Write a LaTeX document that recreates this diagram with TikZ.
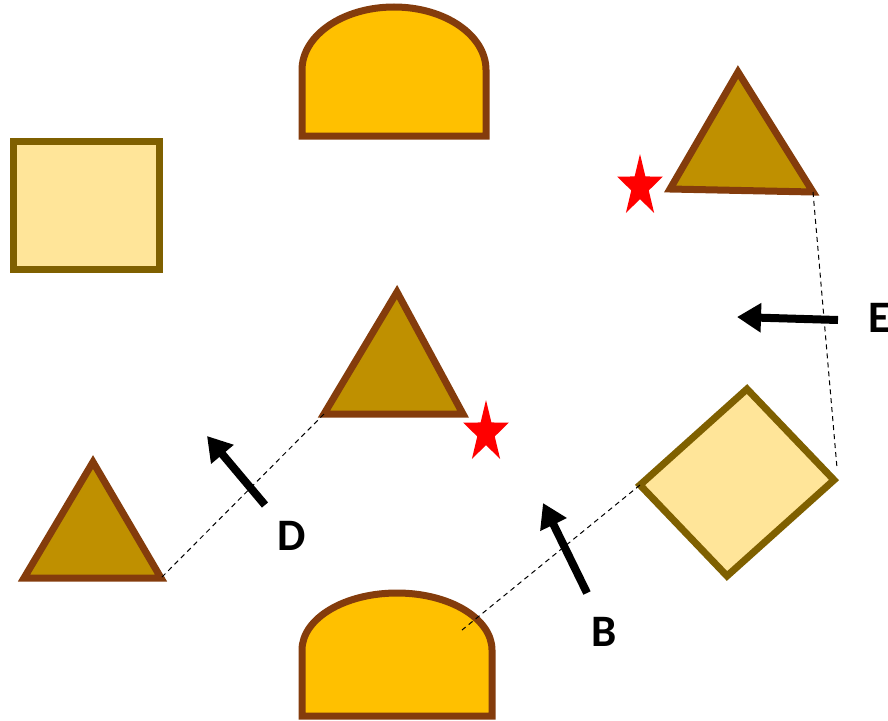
\documentclass[tikz,border=0pt]{standalone}
\usepackage{fontspec}
\setmainfont{Carlito}
\usetikzlibrary{arrows.meta}
\definecolor{domefill}{HTML}{FFC000}
\definecolor{brownline}{HTML}{843C0C}
\definecolor{trifill}{HTML}{BF9000}
\definecolor{lightfill}{HTML}{FFE599}
\definecolor{oliveline}{HTML}{7F6000}
\tikzset{
  dome/.style={fill=domefill,draw=brownline,line width=7pt},
  tri/.style={fill=trifill,draw=brownline,line width=7pt},
  lightshape/.style={fill=lightfill,draw=oliveline,line width=7pt},
  redstar/.style={fill=red,draw=none},
  link/.style={draw=black,line width=1pt,dash pattern=on 5pt off 4pt},
  bigarrow/.style={draw=black,line width=8pt,-{Triangle[length=24pt,width=28pt]}},
  lbl/.style={font=\fontsize{45pt}{45pt}\selectfont\bfseries,inner sep=0pt}
}
\begin{document}
\begin{tikzpicture}[x=1pt,y=-1pt]
\useasboundingbox (0,0) rectangle (888,720);
\clip (0,0) rectangle (888,720);
% top dome
\draw[dome] (302,136) -- (302,70) arc[start angle=180,end angle=360,x radius=92,y radius=63] -- (486,136) -- cycle;
% bottom dome
\draw[dome] (302,716) -- (302,650) arc[start angle=180,end angle=360,x radius=95,y radius=57] -- (492,716) -- cycle;
% square
\draw[lightshape] (13,141) rectangle (159,269);
% triangles
\coordinate (t1a) at (738,72);  \coordinate (t1l) at (670,189); \coordinate (t1r) at (813,192);
\coordinate (t2a) at (397,292); \coordinate (t2l) at (324,414); \coordinate (t2r) at (463,414);
\coordinate (t3a) at (93,462);  \coordinate (t3l) at (24,578);  \coordinate (t3r) at (161,578);
\draw[tri] (t1a) -- (t1l) -- (t1r) -- cycle;
\draw[tri] (t2a) -- (t2l) -- (t2r) -- cycle;
\draw[tri] (t3a) -- (t3l) -- (t3r) -- cycle;
% diamond
\coordinate (dt) at (747,389); \coordinate (dr) at (834,480);
\coordinate (db) at (727,576); \coordinate (dl) at (640,485);
\draw[lightshape] (dt) -- (dr) -- (db) -- (dl) -- cycle;
% stars
\draw[redstar] (640,186.6) +(270:24 and 32.6)
  \foreach \k in {1,...,9} { -- +({270+36*\k}:{ifthenelse(mod(\k,2)==1,9.2,24)} and {ifthenelse(mod(\k,2)==1,12.5,32.6)}) } -- cycle;
\draw[redstar] (486,432.6) +(270:24 and 32.6)
  \foreach \k in {1,...,9} { -- +({270+36*\k}:{ifthenelse(mod(\k,2)==1,9.2,24)} and {ifthenelse(mod(\k,2)==1,12.5,32.6)}) } -- cycle;
% dashed links
\coordinate (dome2p) at (462,630);
\draw[link] (t1r) -- (837,468);
\draw[link] (t2l) -- (t3r);
\draw[link] (dl) -- (dome2p);
% arrows
\coordinate (aD1) at (265,505); \coordinate (aD2) at (207,436);
\coordinate (aB1) at (587,593); \coordinate (aB2) at (543,503);
\coordinate (aE1) at (838,320); \coordinate (aE2) at (737,317);
\draw[bigarrow] (aD1) -- (aD2);
\draw[bigarrow] (aB1) -- (aB2);
\draw[bigarrow] (aE1) -- (aE2);
% labels
\node[lbl] (labD) at (292,536) {D};
\node[lbl] (labB) at (604,632) {B};
\node[lbl,anchor=west] (labE) at (868,318) {E};
\end{tikzpicture}
\end{document}
